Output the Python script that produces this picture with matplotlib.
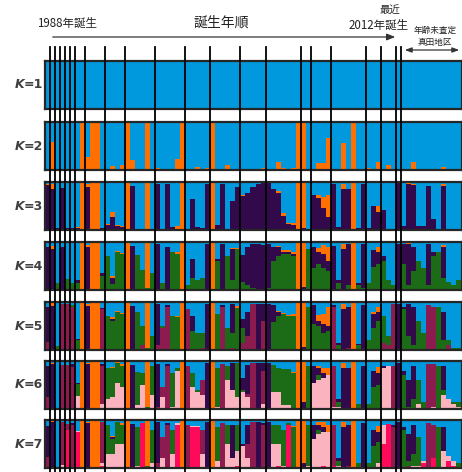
import matplotlib
matplotlib.use("Agg")
import matplotlib.pyplot as plt
from matplotlib.transforms import blended_transform_factory
from matplotlib.lines import Line2D

plt.rcParams['font.family'] = ['Noto Sans CJK JP', 'DejaVu Sans']

W, H = 462, 472
N = 83
group_sizes = [1, 1, 1, 1, 1, 1, 2, 4, 4, 6, 6, 5, 6, 5, 7, 2, 4, 7, 3, 3, 1, 12]

COL = {'B': '#0099DD', 'O': '#FF7000', 'P': '#320A4B', 'G': '#1C6B17',
       'M': '#8C1C50', 'L': '#FBB3BF', 'R': '#FF0A5A'}

# ancestry proportions, bottom-to-top clusters (blue on top = remainder)
K2_order = ['O']
K2 = [.02, .58, .02, .02, .02, .02, .03, 1.0, .28, 1.0, 1.0, .03, .02, .08, .03, .10,
      1.0, .21, .02, .02, 1.0, .02, .04, .02, .02, .02, .22, 1.0, .03, .02, .06, .02,
      .05, 1.0, .02, .02, .10, .03, .02, .03, .02, .02, .02, .05, .02, .03, .17, .05,
      .02, .04, 1.0, .97, .02, .02, .15, .15, .66, .02, .02, .56, .02, 1.0, .02, .02,
      .04, .02, .17, .02, .10, .02, .03, .02, .02, .17, .02, .02, .02, .02, .02, .06,
      .02, .02, .02]

K3_order = ['P', 'O']
K3 = [(.93, .03), (.85, .1), (.05, 0), (.88, 0), (.05, 0), (.05, 0), (.04, .02), (0, 1),
      (.9, .05), (0, 1), (0, 1), (.05, 0), (.1, .02), (.28, .1), (.08, .02), (.06, .03),
      (0, 1), (.92, 0), (.03, 0), (.03, 0), (0, 1), (.03, 0), (.95, 0), (.03, 0),
      (.95, 0), (.07, 0), (.03, .05), (0, 1), (.03, 0), (.65, 0), (.06, 0), (.05, 0),
      (.95, 0), (0, 1), (.1, 0), (.95, 0), (.03, 0), (.6, 0), (.9, 0), (.7, .03),
      (.78, 0), (.9, 0), (.95, 0), (.97, 0), (.97, 0), (.85, 0), (.78, .03), (.3, .05),
      (.12, .03), (.1, .05), (0, 1), (.05, .93), (.03, 0), (.72, 0), (.66, .07), (.45, .24),
      (.28, .45), (.95, 0), (.06, 0), (.85, .1), (.85, 0), (0, 1), (.05, 0), (.95, 0),
      (.05, 0), (.5, 0), (.38, .12), (.42, 0), (.03, 0), (.03, 0), (.97, 0), (.08, 0),
      (.95, .02), (.93, .02), (.08, 0), (.08, 0), (.92, 0), (.23, 0), (.03, 0), (.92, .03),
      (.03, 0), (.03, 0), (.03, 0)]

K4_order = ['G', 'P', 'O']
K4 = [(0, .9, 0), (0, .85, .07), (.14, 0, 0), (0, .9, 0), (.23, 0, 0), (.15, 0, 0),
      (.15, .05, 0), (0, 0, 1), (0, .9, .03), (0, 0, 1), (0, 0, 1), (.3, .05, 0),
      (.7, 0, 0), (.12, .14, .04), (.8, 0, .02), (.75, 0, .03), (0, 0, 1), (0, .92, 0),
      (.72, 0, 0), (.42, 0, 0), (.05, 0, .95), (.35, 0, 0), (0, .95, 0), (.14, 0, 0),
      (0, .9, 0), (.8, 0, 0), (.75, 0, .05), (0, 0, 1), (.1, 0, 0), (.25, .4, 0),
      (.2, 0, 0), (.25, 0, 0), (0, .95, 0), (0, 0, 1), (.6, .05, 0), (0, .95, 0),
      (.7, 0, 0), (.2, .65, .02), (.85, 0, .03), (.17, .55, 0), (.1, .8, 0), (.05, .9, 0),
      (.02, .93, 0), (.02, .92, 0), (.05, .9, 0), (.6, .3, 0), (.7, .2, .02), (.75, .05, .03),
      (.75, .05, .03), (.7, .05, .05), (0, 0, 1), (0, .07, .9), (.85, 0, 0), (.45, .45, 0),
      (.55, .25, .08), (.45, .3, .18), (.4, .2, .3), (0, .92, 0), (.15, .05, 0), (0, .85, .1),
      (.1, .85, 0), (0, 0, 1), (.1, .05, 0), (.05, .9, 0), (.14, 0, 0), (.48, .35, 0),
      (.55, .25, .1), (.6, .1, 0), (.2, 0, 0), (.1, 0, 0), (0, .95, 0), (.55, .4, 0),
      (.1, .85, .03), (.4, .5, 0), (.6, 0, 0), (.45, 0, 0), (.1, .85, 0), (.7, .1, 0),
      (.8, 0, 0), (.25, .65, .03), (.17, 0, 0), (.1, 0, 0), (.2, 0, 0)]

K5_order = ['M', 'G', 'P', 'O']
K5 = [(.17, 0, .72, 0), (0, 0, .92, .05), (.03, .05, 0, 0), (.95, 0, 0, 0), (.95, 0, 0, 0),
      (.9, .03, 0, 0), (0, .2, .03, 0), (0, 0, 0, 1), (0, 0, .92, .03), (0, 0, 0, 1),
      (0, 0, 0, 1), (.85, 0, .03, 0), (0, .7, 0, 0), (0, .6, .05, .03), (0, .8, 0, .02),
      (0, .75, 0, .03), (0, 0, 0, 1), (0, 0, .92, 0), (0, .8, 0, 0), (.1, .4, 0, 0),
      (0, .05, 0, .95), (0, .3, 0, 0), (.1, 0, .85, 0), (.45, .05, 0, 0), (.9, 0, .03, 0),
      (0, .7, 0, 0), (0, .68, 0, .03), (0, 0, 0, 1), (.85, 0, 0, 0), (0, .4, .3, 0),
      (0, .35, 0, 0), (.05, .3, 0, 0), (0, 0, .95, 0), (0, 0, 0, 1), (0, .75, 0, 0),
      (.9, 0, .03, 0), (0, .45, 0, 0), (.05, .3, .6, 0), (0, .88, 0, .03), (.15, .3, .2, 0),
      (.3, 0, .5, 0), (.95, 0, 0, 0), (0, 0, .95, 0), (.6, 0, .35, 0), (0, 0, .95, 0),
      (0, .58, .35, 0), (0, .7, .1, .02), (0, .75, 0, .03), (0, .7, 0, .03), (0, .7, 0, .05),
      (0, 0, 0, 1), (0, 0, .07, .9), (0, .9, 0, 0), (0, .55, .38, 0), (0, .5, .1, .13),
      (0, .35, .2, .2), (0, .4, .1, .4), (.9, 0, .03, 0), (0, .1, .05, 0), (0, 0, .85, .1),
      (.05, 0, .85, 0), (0, 0, 0, 1), (0, .1, .03, 0), (.03, 0, .9, 0), (0, .2, 0, 0),
      (0, .45, .3, .05), (0, .6, .2, .1), (.15, .55, 0, 0), (.1, .2, 0, 0), (.95, 0, 0, 0),
      (0, 0, .95, 0), (0, .85, .05, 0), (0, .3, .65, 0), (0, .1, .8, 0), (0, .6, 0, 0),
      (0, .35, 0, 0), (.93, 0, 0, 0), (.9, 0, 0, 0), (0, .9, 0, 0), (0, .2, .6, 0),
      (.1, .1, 0, 0), (0, .05, 0, 0), (0, .05, 0, 0)]

K6_order = ['L', 'M', 'G', 'P', 'O']
K6 = [(0, .25, 0, .65, 0), (0, 0, 0, .93, .03), (0, 0, .03, 0, 0), (0, .92, 0, 0, 0),
      (0, .92, 0, 0, 0), (0, .88, 0, .05, 0), (.28, 0, .24, .03, 0), (0, 0, 0, 0, 1),
      (0, 0, 0, .93, .02), (0, 0, 0, 0, 1), (0, 0, 0, 0, 1), (.1, .8, 0, .03, 0),
      (.2, 0, .65, 0, 0), (.25, 0, .6, 0, .03), (.55, 0, .4, 0, .02), (.45, 0, .45, 0, .03),
      (0, 0, 0, 0, 1), (0, 0, 0, .92, 0), (.08, 0, .7, 0, 0), (.5, 0, .25, 0, 0),
      (0, 0, .05, 0, .95), (.3, 0, .6, 0, 0), (0, .05, 0, .88, 0), (.25, .2, 0, 0, 0),
      (0, .9, 0, .03, 0), (.05, 0, .7, 0, 0), (.8, 0, .05, 0, 0), (0, 0, 0, 0, 1),
      (0, .9, 0, 0, 0), (.45, 0, .3, 0, 0), (.35, 0, .05, 0, 0), (.3, .3, 0, 0, 0),
      (0, 0, 0, .95, 0), (0, 0, 0, 0, 1), (.05, 0, .8, 0, 0), (0, .93, 0, 0, 0),
      (.6, 0, .3, 0, 0), (.4, 0, 0, .55, 0), (.25, 0, .7, 0, 0), (.35, 0, .05, .25, 0),
      (.26, .05, 0, .6, 0), (0, .95, 0, 0, 0), (0, 0, 0, .95, 0), (.1, .7, 0, .15, 0),
      (0, 0, 0, .95, 0), (.36, 0, .55, 0, 0), (.36, 0, .5, 0, 0), (.08, 0, .75, 0, 0),
      (.08, 0, .75, 0, 0), (0, 0, .75, 0, .03), (0, 0, 0, 0, 1), (0, 0, 0, .14, .85),
      (0, 0, .9, 0, 0), (.55, 0, 0, .35, 0), (.6, 0, .1, .15, .05), (.65, 0, 0, .1, .1),
      (.7, 0, 0, 0, .15), (.05, .85, 0, 0, 0), (.05, 0, .1, .05, 0), (0, 0, 0, .85, .1),
      (0, 0, 0, .85, 0), (0, 0, 0, 0, 1), (0, 0, .1, 0, 0), (0, 0, 0, .9, 0),
      (0, 0, .1, 0, 0), (0, 0, .45, .35, 0), (0, 0, .5, .25, .12), (.85, 0, 0, .05, 0),
      (.9, 0, 0, 0, 0), (0, .9, 0, 0, 0), (0, 0, 0, .95, 0), (0, 0, .7, .1, 0),
      (0, 0, .05, .55, 0), (0, 0, .2, .7, 0), (.1, 0, .5, 0, 0), (0, 0, .15, 0, 0),
      (0, .93, 0, 0, 0), (.05, .88, 0, 0, 0), (0, 0, .9, 0, 0), (.3, 0, .1, .5, 0),
      (.2, 0, 0, 0, 0), (.1, 0, .05, 0, 0), (.05, 0, .1, 0, 0)]

K7_order = ['R', 'L', 'M', 'G', 'P', 'O']
K7 = [(0, 0, .22, 0, .65, 0), (0, 0, .03, 0, .92, .03), (0, 0, 0, .03, 0, 0),
      (0, .07, .88, 0, 0, 0), (.8, 0, .12, 0, 0, 0), (0, 0, .9, 0, .03, 0),
      (.75, .03, 0, 0, 0, 0), (0, 0, 0, 0, 0, 1), (0, 0, .03, 0, .9, .03),
      (0, 0, 0, 0, 0, 1), (0, 0, 0, 0, 0, 1), (.05, .05, .85, 0, 0, 0),
      (0, .3, 0, .6, 0, 0), (0, .3, 0, .3, .05, .02), (0, .5, 0, .45, 0, 0),
      (0, .5, 0, .4, 0, .03), (0, 0, 0, 0, 0, 1), (0, 0, 0, 0, .92, 0),
      (0, .05, 0, .8, 0, 0), (.93, 0, 0, 0, 0, 0), (0, 0, 0, .05, 0, .95),
      (0, .1, 0, .7, 0, 0), (0, 0, .1, 0, .85, 0), (0, .2, .45, 0, 0, 0),
      (0, 0, .9, 0, .03, 0), (0, .3, 0, .5, 0, 0), (.9, .03, 0, 0, 0, 0),
      (0, 0, 0, 0, 0, 1), (0, 0, .9, 0, 0, 0), (.85, .03, 0, 0, 0, 0),
      (.85, .03, 0, 0, 0, 0), (0, .3, .5, 0, 0, 0), (0, 0, 0, 0, .95, 0),
      (0, 0, 0, 0, 0, 1), (0, .15, 0, .7, 0, 0), (0, 0, .93, 0, 0, 0),
      (0, .5, 0, .4, 0, 0), (0, .2, 0, 0, .7, 0), (.05, .3, 0, .55, 0, 0),
      (0, .45, 0, 0, .05, 0), (0, .2, .3, 0, .4, 0), (0, 0, .95, 0, 0, 0),
      (0, 0, 0, 0, .95, 0), (0, 0, .9, 0, .03, 0), (0, 0, 0, 0, .95, 0),
      (0, .5, 0, .4, 0, 0), (.05, .45, 0, .4, 0, 0), (0, .05, 0, .75, 0, 0),
      (.9, 0, 0, .03, 0, 0), (0, 0, 0, .85, 0, .03), (0, 0, 0, 0, 0, 1),
      (0, 0, 0, 0, .1, .88), (0, .05, 0, .85, 0, 0), (0, .6, 0, 0, .3, 0),
      (0, .7, 0, .1, .1, .05), (.05, .7, 0, 0, .1, .1), (0, .75, 0, 0, 0, .15),
      (.05, 0, .85, 0, 0, 0), (0, .05, 0, .1, .05, 0), (0, 0, 0, 0, .85, .1),
      (0, 0, .05, 0, .85, 0), (0, 0, 0, 0, 0, 1), (0, 0, 0, .1, 0, 0),
      (.03, 0, 0, 0, .9, 0), (0, 0, 0, .1, 0, 0), (0, 0, 0, .45, .35, 0),
      (0, .1, 0, .45, .2, .12), (.5, .4, 0, 0, 0, 0), (.92, 0, 0, 0, 0, 0),
      (0, 0, .85, 0, .05, 0), (0, 0, 0, 0, .95, 0), (0, 0, 0, .8, .05, 0),
      (0, 0, .05, .1, .55, 0), (0, .05, 0, .25, .6, 0), (0, .05, 0, .6, 0, 0),
      (.1, .05, 0, 0, 0, 0), (0, 0, .93, 0, 0, 0), (.2, 0, .7, 0, 0, 0),
      (0, 0, 0, .85, 0, 0), (0, .35, 0, 0, .5, 0), (.15, .1, 0, 0, 0, 0),
      (.05, .1, 0, 0, 0, 0), (0, 0, 0, .1, 0, 0)]

panels = [
    ([], [()] * N),
    (K2_order, [(v,) for v in K2]),
    (K3_order, K3),
    (K4_order, K4),
    (K5_order, K5),
    (K6_order, K6),
    (K7_order, K7),
]
panel_tops = [61, 122, 182, 242, 302, 361, 420]
panel_h = 48
left_px, right_px = 44.5, 461.5

fig = plt.figure(figsize=(W / 100, H / 100), dpi=100)
xs = list(range(N))
axes = []
for k, ((order, data), top) in enumerate(zip(panels, panel_tops), start=1):
    ax = fig.add_axes([left_px / W, 1 - (top + panel_h) / H, (right_px - left_px) / W, panel_h / H])
    bottom = [0.0] * N
    for ci, code in enumerate(order):
        vals = [d[ci] for d in data]
        ax.bar(xs, vals, width=1.0, bottom=bottom, align='edge', color=COL[code],
               linewidth=0, antialiased=False)
        bottom = [b + v for b, v in zip(bottom, vals)]
    top_vals = [max(0.0, 1 - b) for b in bottom]
    ax.bar(xs, top_vals, width=1.0, bottom=bottom, align='edge', color=COL['B'],
           linewidth=0, antialiased=False)
    ax.set_xlim(0, N)
    ax.set_ylim(0, 1)
    ax.set_xticks([])
    ax.set_yticks([])
    for s in ax.spines.values():
        s.set_linewidth(1.6)
        s.set_color('#262626')
    ymid = 1 - (top + panel_h / 2) / H
    fig.text(24 / W, ymid, 'K', ha='right', va='center', fontsize=9, fontweight='bold',
             fontstyle='italic', color='#404040', family='DejaVu Sans')
    fig.text(24 / W, ymid, f'={k}', ha='left', va='center', fontsize=9, fontweight='bold',
             color='#404040', family='DejaVu Sans')
    axes.append(ax)

# group separator lines through all panels
trans = blended_transform_factory(axes[0].transData, fig.transFigure)
b = 0
for g in group_sizes[:-1]:
    b += g
    fig.add_artist(Line2D([b, b], [1 - 47 / H, 0], transform=trans, color='black',
                          linewidth=1.3, zorder=10))

# header texts and arrows
ov = fig.add_axes([0, 0, 1, 1], facecolor='none')
ov.set_xlim(0, W)
ov.set_ylim(H, 0)
ov.axis('off')
ov.text(67, 23, '1988年誕生', ha='center', va='center', fontsize=8.3, color='#222222')
ov.text(221, 23, '誕生年順', ha='center', va='center', fontsize=10, color='#222222')
ov.text(390, 10, '最近', ha='center', va='center', fontsize=7.5, color='#222222')
ov.text(379, 25, '2012年誕生', ha='center', va='center', fontsize=8.3, color='#222222')
ov.text(435, 30, '年齢未査定', ha='center', va='center', fontsize=6.2, color='#222222')
ov.text(435, 42, '真田地区', ha='center', va='center', fontsize=6.2, color='#222222')
ov.annotate('', xy=(398, 37), xytext=(50, 37),
            arrowprops=dict(arrowstyle='-|>,head_length=0.5,head_width=0.2', color='#333333', lw=0.9))
ov.annotate('', xy=(462, 50), xytext=(402, 50),
            arrowprops=dict(arrowstyle='<|-|>,head_length=0.4,head_width=0.15', color='#333333', lw=0.9))

fig.savefig('out.png', dpi=100)
